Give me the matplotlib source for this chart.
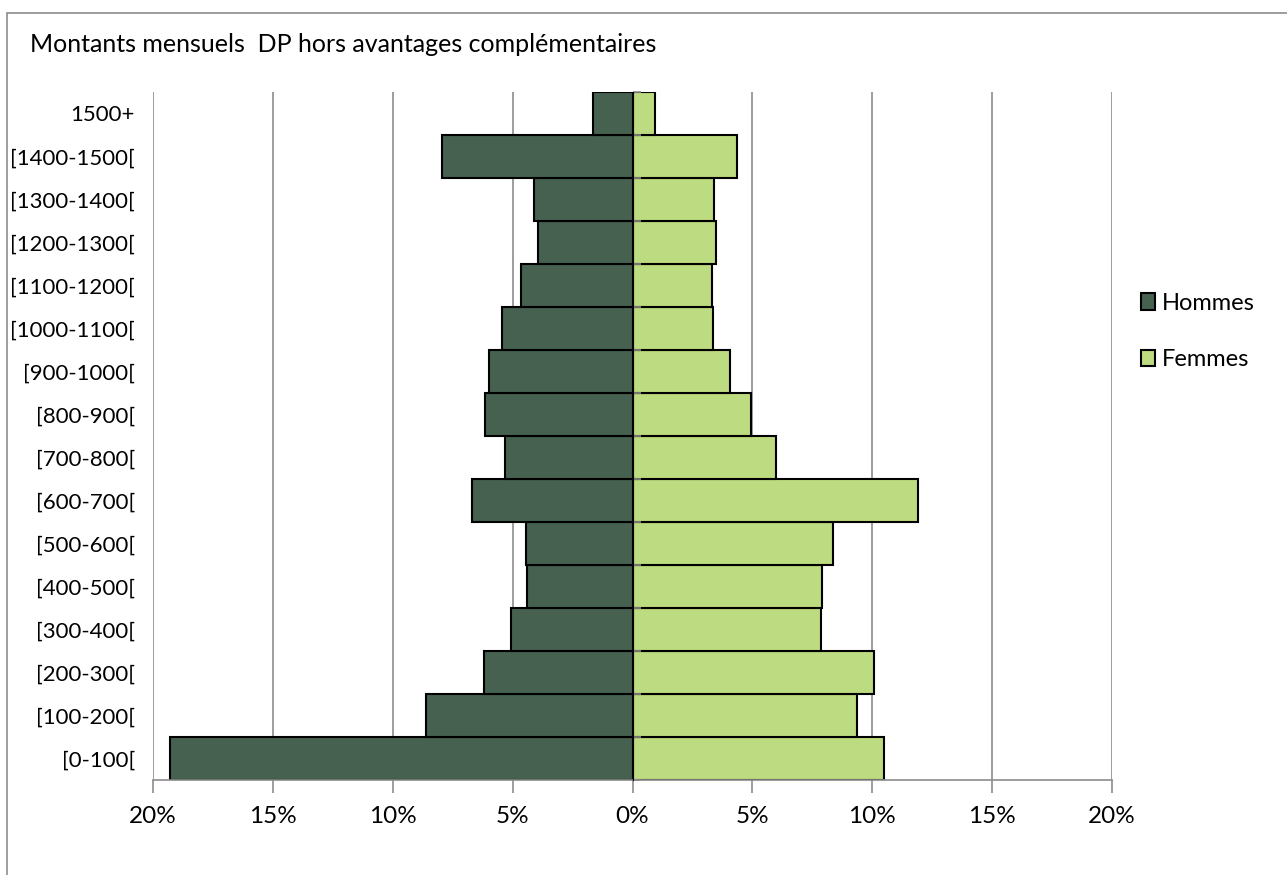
import matplotlib.pyplot as plt
from matplotlib.ticker import FuncFormatter
import numpy as np

plt.rcParams['font.family'] = ['Lato', 'DejaVu Sans']

categories = ['[0-100[', '[100-200[', '[200-300[', '[300-400[', '[400-500[',
              '[500-600[', '[600-700[', '[700-800[', '[800-900[', '[900-1000[',
              '[1000-1100[', '[1100-1200[', '[1200-1300[', '[1300-1400[',
              '[1400-1500[', '1500+']
hommes = [19.3, 8.6, 6.2, 5.05, 4.4, 4.45, 6.7, 5.3, 6.15, 6.0,
          5.45, 4.65, 3.95, 4.1, 7.95, 1.65]
femmes = [10.5, 9.35, 10.05, 7.85, 7.9, 8.35, 11.9, 6.0, 4.95, 4.05,
          3.35, 3.3, 3.5, 3.4, 4.35, 0.95]
xticks = [-20, -15, -10, -5, 0, 5, 10, 15, 20]

fig = plt.figure(figsize=(12.87, 8.75), dpi=100)
ax = fig.add_axes([0.1189, 0.1086, 0.7452, 0.7863])

y = np.arange(len(categories))
ax.barh(y, [-h for h in hommes], height=1.0, color='#466150',
        edgecolor='black', linewidth=1.5, label='Hommes', zorder=2)
ax.barh(y, femmes, height=1.0, color='#bddb80',
        edgecolor='black', linewidth=1.5, label='Femmes', zorder=2)

ax.set_xlim(-20, 20)
ax.set_ylim(-0.5, len(categories) - 0.5)
ax.set_xticks(xticks)
ax.xaxis.set_major_formatter(FuncFormatter(lambda v, p: f'{abs(int(v))}%'))
ax.set_yticks(y)
ax.set_yticklabels(categories)
ax.tick_params(axis='y', length=0, pad=13, labelsize=16)
ax.tick_params(axis='x', length=9, width=1.2, color='#8c8c8c', pad=10, labelsize=17.5)
ax.grid(axis='x', color='#8c8c8c', linewidth=1.2, zorder=0)
ax.set_axisbelow(True)
for s in ['top', 'right', 'left']:
    ax.spines[s].set_visible(False)
ax.spines['bottom'].set_color('#8c8c8c')
ax.spines['bottom'].set_linewidth(1.2)

# center axis with category tick marks
sec = ax.secondary_yaxis(0.5)
sec.set_yticks(np.arange(len(categories) + 1) - 0.5)
sec.set_yticklabels([])
sec.tick_params(length=6, width=1.2, color='#8c8c8c')
sec.spines['left'].set_color('#8c8c8c')
sec.spines['left'].set_linewidth(1.2)
sec.set_zorder(3)

fig.text(30 / 1287, 1 - 45 / 875, 'Montants mensuels  DP hors avantages complémentaires',
         fontsize=18, va='center', ha='left')

ax.legend(loc='center left', bbox_to_anchor=(1.008, 0.652), frameon=False,
          fontsize=17, handlelength=0.6, handleheight=0.7, handletextpad=0.3,
          labelspacing=1.5)

# outer chart border
fig.patches.append(plt.Rectangle((7 / 1287, -0.01), 1.1, 1 - 13 / 875 + 0.01,
                                 transform=fig.transFigure, fill=False,
                                 edgecolor='#8c8c8c', linewidth=1.2))

fig.savefig('out.png', dpi=100)
